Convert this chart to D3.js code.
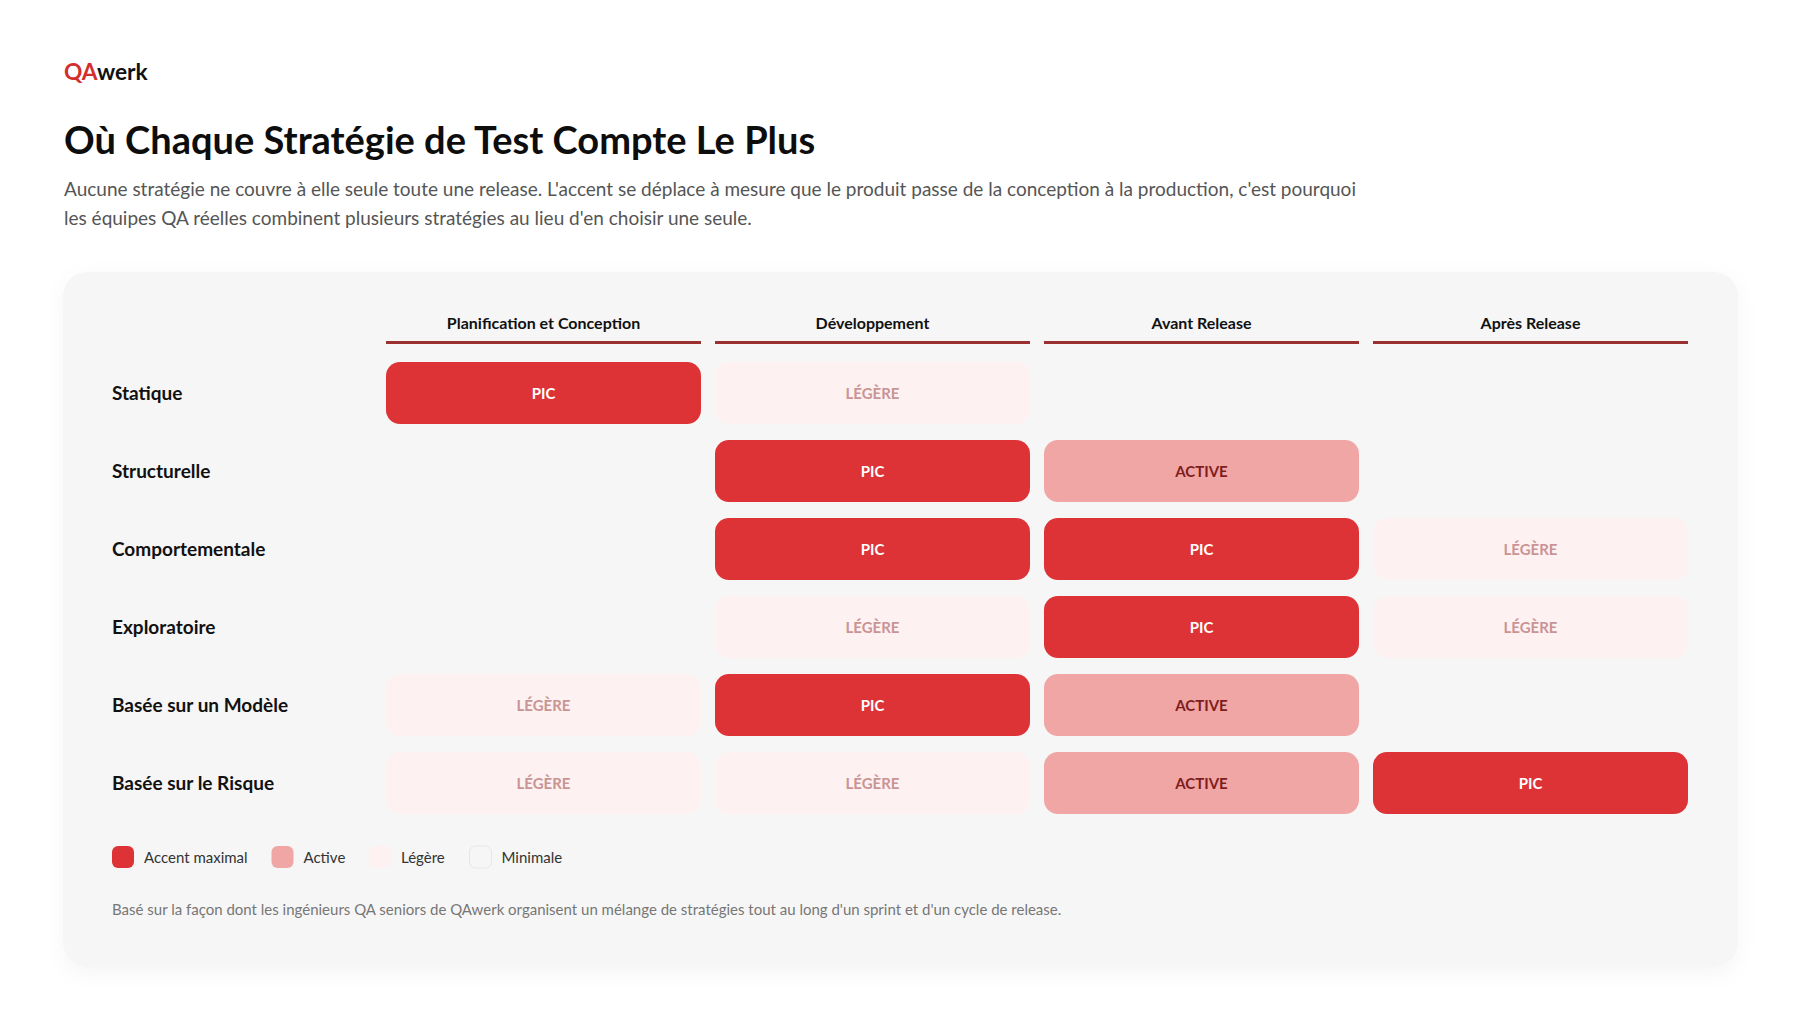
<!DOCTYPE html>
<html lang="fr">
<head>
<meta charset="utf-8">
<title>QAwerk</title>
<script src="https://cdn.jsdelivr.net/npm/d3@7"></script>
<style>
    html, body { margin: 0; background: #fff; }
    svg { display: block; font-family: Lato, sans-serif; }
</style>
</head>
<body>
<svg id="chart" width="1800" height="1010"></svg>
<script>
const phases = ['Planification et Conception', 'Développement', 'Avant Release', 'Après Release'];
const strategies = ['Statique', 'Structurelle', 'Comportementale', 'Exploratoire', 'Basée sur un Modèle', 'Basée sur le Risque'];

// one row per strategy, one entry per phase ('' = minimal, nothing drawn)
const levels = [
    ['PIC', 'LÉGÈRE', '', ''],
    ['', 'PIC', 'ACTIVE', ''],
    ['', 'PIC', 'PIC', 'LÉGÈRE'],
    ['', 'LÉGÈRE', 'PIC', 'LÉGÈRE'],
    ['LÉGÈRE', 'PIC', 'ACTIVE', ''],
    ['LÉGÈRE', 'LÉGÈRE', 'ACTIVE', 'PIC'],
];

const legendLabels = ['Accent maximal', 'Active', 'Légère', 'Minimale'];
const legendX = [112, 271.5, 369, 469.5];
const subtitle = [
    "Aucune stratégie ne couvre à elle seule toute une release. L'accent se déplace à mesure que le produit passe de la conception à la production, c'est pourquoi",
    "les équipes QA réelles combinent plusieurs stratégies au lieu d'en choisir une seule.",
];
const footnote = "Basé sur la façon dont les ingénieurs QA seniors de QAwerk organisent un mélange de stratégies tout au long d'un sprint et d'un cycle de release.";

const fills = { 'PIC': '#dd3336', 'ACTIVE': '#f1a6a6', 'LÉGÈRE': '#fdf1f1' };
const inks = { 'PIC': '#ffffff', 'ACTIVE': '#7f1d1d', 'LÉGÈRE': '#c99494' };
const legendFills = ['#dd3336', '#f1a6a6', '#fdf1f1', '#f6f6f6'];

const svg = d3.select('#chart');

const defs = svg.append('defs');
const shadow = defs.append('filter').attr('id', 'card-shadow')
    .attr('x', '-5%').attr('y', '-5%').attr('width', '110%').attr('height', '110%');
shadow.append('feDropShadow')
    .attr('dx', 0).attr('dy', 6).attr('stdDeviation', 10)
    .attr('flood-color', '#000').attr('flood-opacity', 0.04);

// header text
const logo = svg.append('text').attr('x', 64).attr('y', 80)
    .attr('font-size', 22.7).attr('font-weight', 700);
logo.append('tspan').attr('fill', '#d32f2f').text('QA');
logo.append('tspan').attr('fill', '#111').text('werk');

svg.append('text').attr('x', 64).attr('y', 154)
    .attr('font-size', 38).attr('font-weight', 700).attr('fill', '#0d0d0d')
    .text('Où Chaque Stratégie de Test Compte Le Plus');

svg.selectAll('text.sub').data(subtitle).join('text')
    .attr('class', 'sub')
    .attr('x', 64).attr('y', (d, i) => 196 + i * 29)
    .attr('font-size', 19).attr('fill', '#555')
    .text(d => d);

// card
svg.append('rect')
    .attr('x', 63).attr('y', 272).attr('width', 1675).attr('height', 695)
    .attr('rx', 24).attr('fill', '#f6f6f6')
    .attr('filter', 'url(#card-shadow)');

const x = d3.scaleBand().domain(phases).range([386, 1688]).paddingInner(14 / 329);
const y = d3.scaleBand().domain(strategies).range([362, 814]).paddingInner(16 / 78);

// column heads
svg.selectAll('text.phase').data(phases).join('text')
    .attr('class', 'phase')
    .attr('x', d => x(d) + x.bandwidth() / 2).attr('y', 328.5)
    .attr('text-anchor', 'middle')
    .attr('font-size', 16).attr('font-weight', 700).attr('fill', '#111')
    .text(d => d);

svg.selectAll('rect.rule').data(phases).join('rect')
    .attr('class', 'rule')
    .attr('x', d => x(d)).attr('y', 341)
    .attr('width', x.bandwidth()).attr('height', 3)
    .attr('fill', '#9b3030');

// row labels
svg.selectAll('text.strategy').data(strategies).join('text')
    .attr('class', 'strategy')
    .attr('x', 112).attr('y', d => y(d) + y.bandwidth() / 2)
    .attr('dy', '0.35em')
    .attr('font-size', 19).attr('font-weight', 700).attr('fill', '#111')
    .text(d => d);

// cells
const cells = strategies.flatMap((s, i) => phases.map((p, j) => ({ s, p, level: levels[i][j] })))
    .filter(d => d.level);

svg.selectAll('rect.cell').data(cells).join('rect')
    .attr('class', 'cell')
    .attr('x', d => x(d.p)).attr('y', d => y(d.s))
    .attr('width', x.bandwidth()).attr('height', y.bandwidth())
    .attr('rx', 14)
    .attr('fill', d => fills[d.level]);

svg.selectAll('text.cell-label').data(cells).join('text')
    .attr('class', 'cell-label')
    .attr('x', d => x(d.p) + x.bandwidth() / 2)
    .attr('y', d => y(d.s) + y.bandwidth() / 2 + 1)
    .attr('dy', '0.35em')
    .attr('text-anchor', 'middle')
    .attr('font-size', 15).attr('font-weight', 700)
    .attr('fill', d => inks[d.level])
    .text(d => d.level);

// legend
svg.selectAll('rect.swatch').data(legendLabels).join('rect')
    .attr('class', 'swatch')
    .attr('x', (d, i) => legendX[i]).attr('y', 846)
    .attr('width', 22).attr('height', 22).attr('rx', 6)
    .attr('fill', (d, i) => legendFills[i])
    .attr('stroke', (d, i) => i === 3 ? '#e6e6e6' : 'none');

svg.selectAll('text.legend').data(legendLabels).join('text')
    .attr('class', 'legend')
    .attr('x', (d, i) => legendX[i] + 32).attr('y', 858)
    .attr('dy', '0.35em')
    .attr('font-size', 15).attr('fill', '#333')
    .text(d => d);

svg.append('text').attr('x', 112).attr('y', 915)
    .attr('font-size', 15).attr('fill', '#777')
    .text(footnote);
</script>
</body>
</html>
